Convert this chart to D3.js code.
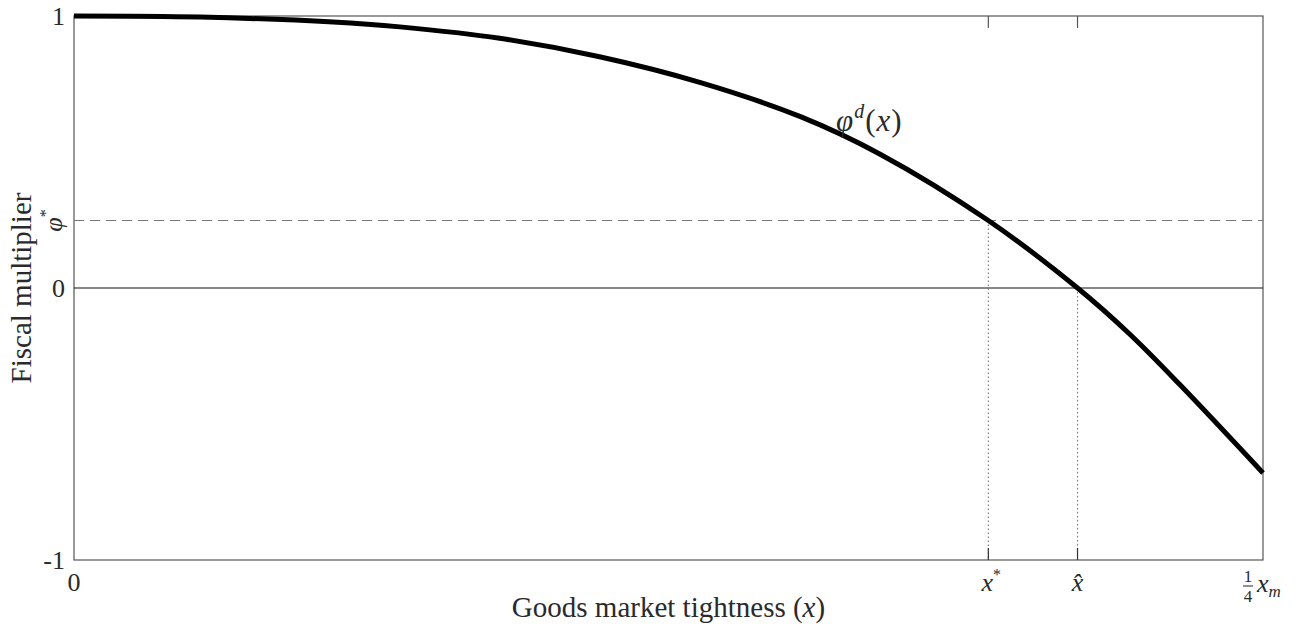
<!DOCTYPE html>
<html>
<head>
<meta charset="utf-8">
<script src="https://cdn.jsdelivr.net/npm/d3@7"></script>
<style>
  body { margin: 0; background: #fff; }
  text { font-family: "Liberation Serif", "DejaVu Serif", serif; fill: #2a2a2a; }
</style>
</head>
<body>
<div id="chart"></div>
<script>
// Curve (x as share of x_m/4, multiplier value)
const curveX = [0, 0.106, 0.218, 0.274, 0.358, 0.442, 0.527, 0.611, 0.678, 0.769, 0.844, 0.888, 0.930, 1.0];
const curveY = [1.0, 0.996, 0.978, 0.960, 0.918, 0.850, 0.755, 0.630, 0.492, 0.248, 0.0, -0.170, -0.355, -0.680];

// Reference levels
const phiStar = 0.248;
const xStar = 0.769;
const xHat = 0.844;

const yTickValues = [-1, 0, 1];
const yTickLabels = ['-1', '0', '1'];

const width = 1299;
const height = 633;
const margin = { top: 16, right: 36, bottom: 73, left: 74 };

const svg = d3.select('#chart')
    .append('svg')
    .attr('width', width)
    .attr('height', height);

const x = d3.scaleLinear()
    .domain([0, 1])
    .range([margin.left, width - margin.right]);

const y = d3.scaleLinear()
    .domain([-1, 1])
    .range([height - margin.bottom, margin.top]);

// Frame
svg.append('rect')
    .attr('x', x(0))
    .attr('y', y(1))
    .attr('width', x(1) - x(0))
    .attr('height', y(-1) - y(1))
    .attr('fill', 'none')
    .attr('stroke', '#555')
    .attr('stroke-width', 1.2);

// Zero line
svg.append('line')
    .attr('x1', x(0)).attr('x2', x(1))
    .attr('y1', y(0)).attr('y2', y(0))
    .attr('stroke', '#111')
    .attr('stroke-width', 1.2);

// phi* dashed line
svg.append('line')
    .attr('x1', x(0)).attr('x2', x(1))
    .attr('y1', y(phiStar)).attr('y2', y(phiStar))
    .attr('stroke', '#777')
    .attr('stroke-width', 1.1)
    .attr('stroke-dasharray', '10,6');

// Dotted drops
[[xStar, phiStar], [xHat, 0]].forEach(([xv, yv]) => {
    svg.append('line')
        .attr('x1', x(xv)).attr('x2', x(xv))
        .attr('y1', y(yv)).attr('y2', y(-1))
        .attr('stroke', '#777')
        .attr('stroke-width', 1.1)
        .attr('stroke-dasharray', '1.5,2.5');
});

// Ticks at x* and x-hat, top and bottom, pointing in
[xStar, xHat].forEach(xv => {
    svg.append('line')
        .attr('x1', x(xv)).attr('x2', x(xv))
        .attr('y1', y(1)).attr('y2', y(1) + 12)
        .attr('stroke', '#555').attr('stroke-width', 1.2);
    svg.append('line')
        .attr('x1', x(xv)).attr('x2', x(xv))
        .attr('y1', y(-1)).attr('y2', y(-1) - 12)
        .attr('stroke', '#333').attr('stroke-width', 1.2);
});

// Curve
const line = d3.line()
    .x(d => x(d[0]))
    .y(d => y(d[1]))
    .curve(d3.curveCatmullRom.alpha(0.5));

svg.append('path')
    .datum(curveX.map((v, i) => [v, curveY[i]]))
    .attr('d', line)
    .attr('fill', 'none')
    .attr('stroke', '#000')
    .attr('stroke-width', 5)
    .attr('stroke-linecap', 'butt');

// Y tick labels
yTickValues.forEach((v, i) => {
    svg.append('text')
        .attr('x', x(0) - 9)
        .attr('y', y(v) + 9)
        .attr('text-anchor', 'end')
        .attr('font-size', 26)
        .text(yTickLabels[i]);
});

// phi* label, rotated
svg.append('text')
    .attr('transform', `translate(${x(0) - 12},${y(phiStar)}) rotate(-90)`)
    .attr('text-anchor', 'middle')
    .attr('font-size', 26)
    .attr('font-style', 'italic')
    .html('φ<tspan font-size="16" dy="-11" font-style="normal">*</tspan>');

// X tick labels
svg.append('text')
    .attr('x', x(0))
    .attr('y', y(-1) + 31)
    .attr('text-anchor', 'middle')
    .attr('font-size', 26)
    .text('0');

svg.append('text')
    .attr('x', x(xStar) + 3)
    .attr('y', y(-1) + 31)
    .attr('text-anchor', 'middle')
    .attr('font-size', 26)
    .attr('font-style', 'italic')
    .html('x<tspan font-size="16" dy="-11" font-style="normal">*</tspan>');

svg.append('text')
    .attr('x', x(xHat))
    .attr('y', y(-1) + 31)
    .attr('text-anchor', 'middle')
    .attr('font-size', 26)
    .attr('font-style', 'italic')
    .text('x̂');

// 1/4 x_m label
const xm = svg.append('g')
    .attr('transform', `translate(${x(1) - 15},${y(-1)})`);
xm.append('text').attr('x', 0).attr('y', 22).attr('text-anchor', 'middle').attr('font-size', 17).text('1');
xm.append('line').attr('x1', -5).attr('x2', 5).attr('y1', 26).attr('y2', 26).attr('stroke', '#222').attr('stroke-width', 1);
xm.append('text').attr('x', 0).attr('y', 42).attr('text-anchor', 'middle').attr('font-size', 17).text('4');
xm.append('text')
    .attr('x', 9).attr('y', 32)
    .attr('font-size', 26)
    .attr('font-style', 'italic')
    .html('x<tspan font-size="17" dy="5">m</tspan>');

// Curve label
svg.append('text')
    .attr('x', 836)
    .attr('y', 131)
    .attr('font-size', 31)
    .attr('font-style', 'italic')
    .attr('letter-spacing', 1)
    .html('φ<tspan font-size="20" dy="-13">d</tspan><tspan dy="13" font-style="normal">(</tspan>x<tspan font-style="normal">)</tspan>');

// Axis titles
svg.append('text')
    .attr('x', (x(0) + x(1)) / 2)
    .attr('y', 617)
    .attr('text-anchor', 'middle')
    .attr('font-size', 29)
    .html('Goods market tightness (<tspan font-style="italic">x</tspan>)');

svg.append('text')
    .attr('transform', `translate(31,${y(0)}) rotate(-90)`)
    .attr('text-anchor', 'middle')
    .attr('font-size', 29)
    .text('Fiscal multiplier');
</script>
</body>
</html>
